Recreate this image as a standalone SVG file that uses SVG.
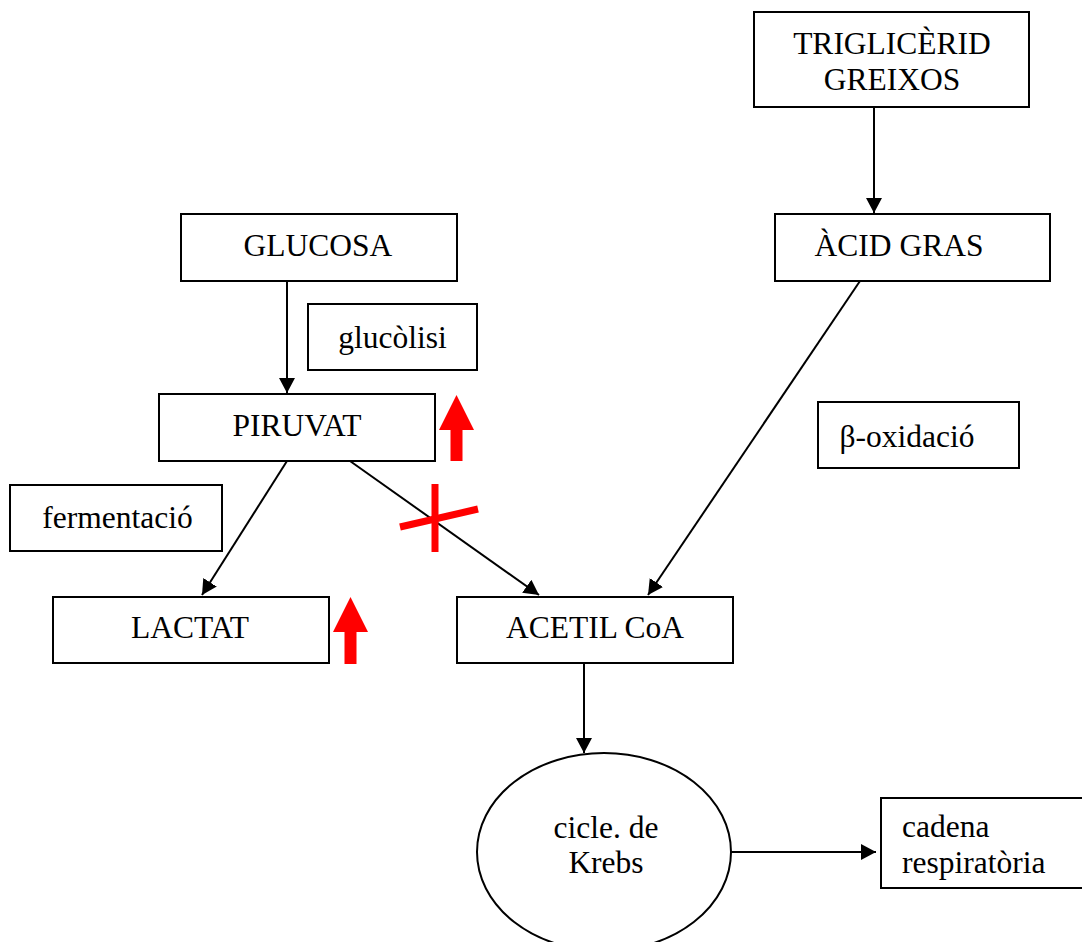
<svg xmlns="http://www.w3.org/2000/svg" width="1082" height="942" viewBox="0 0 1082 942">
<style>
.box{fill:#fff;stroke:#000;stroke-width:2}
.t{font-family:"Liberation Serif","Times New Roman",serif;font-size:31.5px;fill:#000;text-anchor:middle}
.tl{font-family:"Liberation Serif","Times New Roman",serif;font-size:31.5px;fill:#000}
.c{fill:none;stroke:#000;stroke-width:2}
.red{fill:#ff0000}
.redl{stroke:#ff0000;stroke-width:7;fill:none}
</style>
<defs>
<marker id="ah" markerUnits="userSpaceOnUse" markerWidth="16" markerHeight="16" viewBox="0 0 16 16" refX="15" refY="8" orient="auto">
<path d="M0,0 L15,8 L0,16 Z" fill="#000"/>
</marker>
</defs>
<rect width="1082" height="942" fill="#fff"/>
<g id="connectors">
<line class="c" x1="874" y1="107" x2="874" y2="213" marker-end="url(#ah)"/>
<line class="c" x1="287" y1="282" x2="287" y2="393" marker-end="url(#ah)"/>
<line class="c" x1="287" y1="461" x2="202" y2="595" marker-end="url(#ah)"/>
<line class="c" x1="350" y1="461" x2="539" y2="595" marker-end="url(#ah)"/>
<line class="c" x1="860" y1="281" x2="648" y2="595" marker-end="url(#ah)"/>
<line class="c" x1="584" y1="663" x2="584" y2="753" marker-end="url(#ah)"/>
<line class="c" x1="731" y1="852" x2="876" y2="852" marker-end="url(#ah)"/>
</g>
<g id="trigliceridgreixos">
<rect class="box" x="754" y="12" width="275" height="95"/>
<text class="t" x="892" y="54">TRIGLICÈRID</text>
<text class="t" x="892" y="90">GREIXOS</text>
</g>
<g id="glucosa">
<rect class="box" x="181" y="214" width="276" height="67"/>
<text class="t" x="318" y="256">GLUCOSA</text>
</g>
<g id="acidgras">
<rect class="box" x="775" y="214" width="275" height="67"/>
<text class="t" x="899" y="256">ÀCID GRAS</text>
</g>
<g id="glucolisi">
<rect class="box" x="308" y="304" width="169" height="66"/>
<text class="t" x="392.5" y="348">glucòlisi</text>
</g>
<g id="piruvat">
<rect class="box" x="159" y="394" width="276" height="67"/>
<text class="t" x="297" y="436">PIRUVAT</text>
</g>
<g id="betaoxidacio">
<rect class="box" x="818" y="402" width="201" height="66"/>
<text class="t" x="907" y="447">β-oxidació</text>
</g>
<g id="fermentacio">
<rect class="box" x="10" y="485" width="212" height="66"/>
<text class="t" x="117.5" y="528">fermentació</text>
</g>
<g id="lactat">
<rect class="box" x="53" y="597" width="276" height="66"/>
<text class="t" x="190" y="638">LACTAT</text>
</g>
<g id="acetilcoa">
<rect class="box" x="457" y="597" width="276" height="66"/>
<text class="t" x="595" y="638">ACETIL CoA</text>
</g>
<g id="krebs">
<ellipse class="box" cx="604" cy="852" rx="127" ry="99"/>
<text class="t" x="606" y="838">cicle. de</text>
<text class="t" x="606" y="873">Krebs</text>
</g>
<g id="cadena">
<rect class="box" x="881" y="798" width="210" height="90"/>
<text class="tl" x="902" y="837">cadena</text>
<text class="tl" x="902" y="873">respiratòria</text>
</g>
<g id="increase-piruvat">
<polygon class="red" points="456.5,395 474,430 462.5,430 462.5,461 450.5,461 450.5,430 439,430"/>
</g>
<g id="increase-lactat">
<polygon class="red" points="350.5,597 368,632 356.5,632 356.5,664 344.5,664 344.5,632 333,632"/>
</g>
<g id="block">
<line class="redl" x1="435" y1="484" x2="435" y2="552"/>
<line class="redl" x1="400" y1="527" x2="478" y2="509"/>
</g>
</svg>
